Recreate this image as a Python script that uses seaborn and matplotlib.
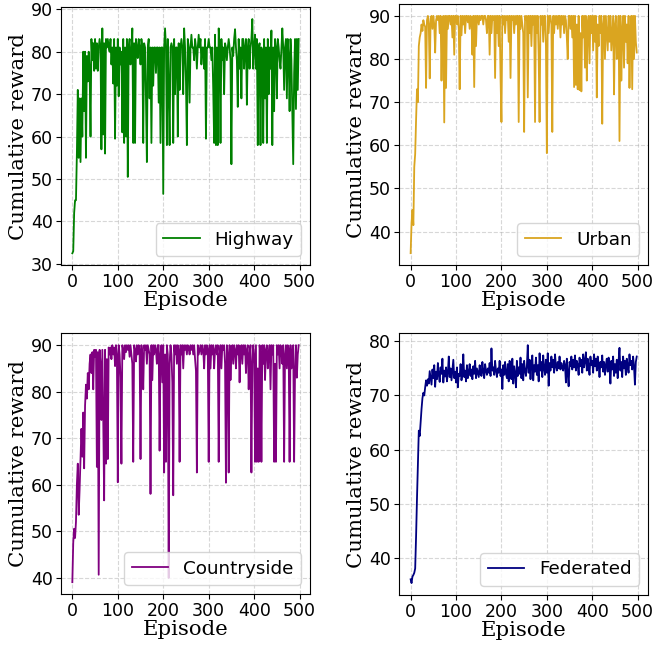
import matplotlib
matplotlib.use("Agg")
import matplotlib.pyplot as plt
import seaborn as sns
import pandas as pd
import numpy as np

# episodes sampled every 2 steps
episodes = list(range(0, 500, 2))

highway = [
    32.5, 33, 42, 45, 45, 56, 71, 55, 69, 54,
    69, 60, 80, 66, 80, 55, 79, 73, 80, 76,
    60, 83, 78, 82, 75.5, 83, 76, 82, 75.5, 81,
    83, 81, 57, 85.5, 60.5, 82, 56, 83, 81, 83,
    81, 80, 83, 77, 81, 72.5, 83, 59.5, 81, 72,
    83, 69.5, 81, 77, 80, 61, 83, 58.5, 81, 60,
    83, 50.5, 81, 83, 77, 79, 85.5, 58.5, 82, 58.5,
    83, 81, 78.5, 83, 81, 77, 83, 81, 58.5, 82,
    81, 69, 54, 81, 83, 69, 81, 58.5, 81, 72,
    81, 81, 75, 81, 81, 68, 81, 58.5, 81, 81,
    46.5, 81, 85.5, 81, 58, 83, 71.5, 58, 81, 82,
    81, 58.5, 83, 70, 81, 81, 60, 82, 71, 81,
    83, 81, 70, 85.5, 81, 73, 58, 83, 81, 68,
    81, 84, 81, 81, 78, 83, 81, 76, 81, 84,
    81, 83, 77, 81, 81, 76, 83, 59.5, 81, 81,
    83, 81, 81, 78, 81, 71, 58.5, 84, 58, 81,
    58, 85.5, 81, 58.5, 83, 78, 81, 70, 82, 81,
    78, 81, 83, 81, 78, 53.5, 81, 79, 83, 85.3,
    81, 78, 67, 83, 76, 81, 69, 83, 83, 76,
    81, 83, 67.5, 81, 83, 76, 81, 83, 87.7, 76,
    81, 84, 76, 83, 58, 81, 82, 58, 81, 80,
    58.5, 83, 69, 81, 58.5, 83, 70, 81, 76, 85,
    58, 81, 66, 83, 81, 69, 83, 81, 78, 76,
    81, 85.5, 81, 71, 81, 83, 69, 83, 79, 66,
    83, 78, 66, 53.5, 75, 83, 66.5, 83, 71, 83,
]

urban = [
    35, 42, 45, 41.5, 55, 58, 66, 73, 70, 83,
    85, 86, 88, 86.5, 89, 88, 87.5, 73.3, 89, 90,
    88, 75.5, 89.5, 90, 87, 90, 88, 81.5, 89, 90,
    89, 90, 86, 90, 75, 89, 90, 65.3, 90, 73.3,
    90, 87, 90, 90, 88, 90, 85, 90, 81, 90,
    90, 88, 90, 87, 73, 90, 85.5, 90, 88, 90,
    86, 90, 90, 88.5, 90, 87, 90, 89, 81, 90,
    73.5, 90, 83, 90, 90, 88, 90, 89, 90, 90,
    88, 90, 90, 89, 86, 90, 90, 81, 90, 86,
    90, 89, 90, 75.6, 90, 86, 90, 83, 90, 76,
    65.4, 90, 88, 90, 86, 90, 89, 90, 84, 90,
    75.6, 90, 89, 90, 86, 90, 88, 90, 90, 65.4,
    90, 87, 90, 88, 86, 63.1, 90, 89, 90, 71.1,
    90, 86, 90, 83, 90, 88, 90, 65.4, 90, 86,
    90, 80.5, 65.4, 90, 88, 90, 84, 90, 90, 83,
    58.2, 90, 86, 90, 90, 88, 63.1, 90, 86, 90,
    88, 90, 87, 90, 90, 85, 90, 88, 90, 86,
    90, 89, 85, 80, 90, 90, 87, 90, 85, 90,
    73.5, 90, 74, 88, 73, 90, 72.8, 86, 72.5, 90,
    85, 90, 78, 90, 75, 88, 90, 79, 90, 86,
    90, 82, 90, 84, 90, 71.1, 88, 83, 90, 86,
    90, 65, 88, 90, 80, 90, 86, 82, 90, 84,
    90, 82, 86, 90, 71.8, 88, 90, 80, 84, 90,
    61, 90, 75, 86, 90, 78, 90, 84, 88, 79,
    90, 73.3, 86, 90, 73, 90, 80, 90, 84, 81.5,
]

countryside = [
    39, 47.5, 50.5, 48.5, 52, 60, 64.5, 53.5, 59, 65.5,
    72, 66, 75.5, 63.5, 77, 81.5, 78.5, 84, 80.5, 86,
    88, 84, 88.5, 80.5, 89, 87.5, 89, 63.8, 88.5, 40.6,
    89, 86, 73.9, 89, 74, 56.6, 89, 64.5, 87, 65.5,
    89.5, 88, 89.5, 87, 90, 88, 89.5, 85.5, 90, 88,
    60.5, 90, 88, 83, 64.5, 90, 89, 87, 90, 88.5,
    90, 89, 90, 87.5, 90, 88, 86, 64.9, 90, 89,
    86.5, 90, 88, 90, 89, 65.5, 90, 88, 80.5, 90,
    89, 90, 86, 90, 89, 88, 58, 90, 82.5, 90,
    88, 90, 89, 86, 90, 90, 67.3, 88, 90, 82,
    90, 62.6, 88, 64.9, 90, 88, 39.9, 86, 90, 88,
    82, 57.7, 90, 88, 90, 86, 90, 89, 64.9, 90,
    88, 90, 85, 90, 89, 90, 88, 90, 89.5, 88,
    90, 89, 90, 88, 90, 87, 84.5, 62.6, 90, 88,
    89, 90, 88, 90, 89, 85, 90, 88, 90, 89,
    64.9, 90, 85, 90, 88, 90, 85, 89, 90, 88,
    90, 64.9, 88, 90, 85, 90, 89, 90, 86, 60.4,
    90, 88, 62.6, 90, 82.5, 88, 90, 86, 90, 89,
    85, 90, 88, 90, 82, 89, 90, 86, 90, 88,
    90, 84, 89, 90, 80.5, 88, 90, 62.6, 86, 90,
    88, 64.9, 90, 64.9, 85, 64.9, 90, 88, 64.9, 90,
    86, 90, 82.5, 89, 90, 85, 88, 90, 80.5, 90,
    88, 90, 64.9, 86, 64.9, 90, 88, 90, 85, 90,
    89, 86, 90, 64.9, 88, 90, 85, 90, 89, 64.9,
    90, 85, 88, 90, 64.9, 84.5, 90, 83, 88, 90,
]

federated = [
    36, 35.3, 36.5, 36.8, 37.2, 38, 44, 51, 57, 63.5,
    62.5, 65, 67.5, 69.5, 70.5, 70, 71.5, 72.8, 71.8, 73,
    72.2, 74.5, 73.2, 72, 74.8, 73.2, 75.6, 71.6, 74.4, 73,
    76, 73.8, 72.5, 75.2, 74, 76.8, 72.4, 74.6, 73.5, 75.2,
    72.6, 74.2, 77.2, 73.4, 75, 72.8, 74.6, 76.6, 73.2, 74.4,
    72.4, 75.2, 71.5, 74, 73.6, 75.8, 72.8, 74.2, 77.6, 73.4,
    74.6, 72.6, 75.6, 73.2, 74.2, 75.8, 73.6, 74.8, 73, 75.4,
    74, 76.4, 73.2, 75, 74.2, 73.4, 75.6, 74, 73.6, 76.2,
    74.4, 73.2, 75.8, 74.6, 73.8, 75, 74.2, 76, 73.6, 78.7,
    74.6, 75.2, 73.8, 76.4, 74.6, 73.4, 75, 74.2, 76.4, 73.6,
    74.8, 71.2, 75.6, 73.8, 76.2, 74, 73.2, 75.8, 72.6, 76.4,
    74.2, 73, 76.8, 72.2, 75.4, 74, 71.5, 76.4, 73.6, 75.2,
    74, 77, 73.2, 75.8, 72.8, 76.4, 74.6, 73.6, 75.4, 79.3,
    74.2, 76.6, 73, 75.8, 77.4, 72.8, 75.6, 74.4, 77, 73.8,
    75.6, 72.6, 77.8, 74.6, 76.2, 73.4, 77.4, 75, 73.8, 76.6,
    74.2, 77.8, 71.8, 76, 74.6, 77.2, 75.2, 76.6, 74.2, 77.6,
    75.4, 74.6, 76.2, 75, 77.2, 74.8, 76, 75.2, 74.6, 76.4,
    75.6, 72.4, 76.8, 74, 71.7, 76.2, 75.4, 77.2, 74.8, 76.6,
    75.2, 77.4, 74.6, 76.4, 75.6, 73.8, 77, 75.4, 76.6, 74.2,
    77.6, 75.2, 76.4, 78, 74.6, 76.8, 75.4, 73.8, 77.2, 75.6,
    76.4, 74.2, 77.6, 75.4, 76.8, 74.6, 77.2, 75.8, 73.4, 76.2,
    75.2, 77.4, 74.4, 76.2, 73.8, 75.6, 76.8, 74.4, 77, 75.2,
    72.2, 76.4, 74.8, 77.2, 73.6, 75.8, 74.2, 76.6, 73.2, 76.4,
    78.8, 74.6, 76.2, 73.4, 77.2, 75, 76.4, 73.8, 76.8, 75.4,
    74.2, 77.6, 75.6, 76.4, 74.8, 77.2, 75.4, 72, 76.2, 77.2,
]

panels = [
    ("Highway", highway, "green"),
    ("Urban", urban, "goldenrod"),
    ("Countryside", countryside, "purple"),
    ("Federated", federated, "navy"),
]

# axes boxes [left, bottom, width, height] in figure fractions
boxes = [
    [0.0933, 0.5910, 0.3807, 0.3977],
    [0.6106, 0.5910, 0.3803, 0.4028],
    [0.0933, 0.0833, 0.3807, 0.4023],
    [0.6106, 0.0818, 0.3803, 0.4039],
]

fig = plt.figure(figsize=(6.54, 6.48), dpi=100)

for (name, values, color), box in zip(panels, boxes):
    ax = fig.add_axes(box)
    df = pd.DataFrame({"Episode": episodes, "Reward": values})
    sns.lineplot(data=df, x="Episode", y="Reward", color=color,
                 linewidth=1.3, label=name, ax=ax)
    ax.grid(True, linestyle="--", color="#b0b0b0", alpha=0.5, linewidth=0.8)
    ax.set_xticks([0, 100, 200, 300, 400, 500])
    ax.tick_params(labelsize=12.5, pad=2.5)
    ax.set_xlabel("Episode", family="DejaVu Serif", fontsize=15.3, labelpad=0)
    ax.set_ylabel("Cumulative reward", family="DejaVu Serif", fontsize=15.3, labelpad=2)
    ax.legend(loc="lower right", fontsize=13.2)

fig.savefig("out.png", dpi=100)
